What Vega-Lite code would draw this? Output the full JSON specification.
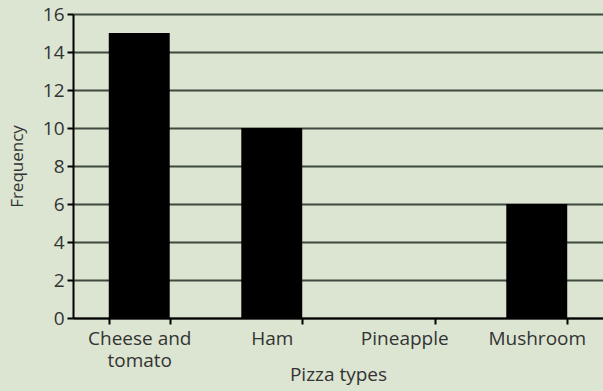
{
  "$schema": "https://vega.github.io/schema/vega-lite/v6.json",
  "autosize": "none",
  "width": 530,
  "height": 304,
  "padding": {"left": 73, "top": 14, "right": 0, "bottom": 73},
  "background": "#dce5d2",
  "config": {
    "view": {"stroke": null},
    "font": "Open Sans"
  },
  "data": {
    "values": [
      {"type": "Cheese and tomato", "frequency": 15},
      {"type": "Ham", "frequency": 10},
      {"type": "Pineapple", "frequency": 0},
      {"type": "Mushroom", "frequency": 6}
    ]
  },
  "mark": {"type": "bar", "color": "#000000"},
  "encoding": {
    "x": {
      "field": "type",
      "type": "nominal",
      "sort": null,
      "scale": {"paddingInner": 0.54, "paddingOuter": 0.27},
      "axis": {
        "title": "Pizza types",
        "titleFontSize": 19,
        "titleFontWeight": "normal",
        "titleColor": "#333333",
        "titlePadding": -5,
        "labelAngle": 0,
        "labelFontSize": 19,
        "labelColor": "#333333",
        "labelExpr": "datum.value == 'Cheese and tomato' ? ['Cheese and', 'tomato'] : datum.value",
        "labelLineHeight": 22,
        "labelPadding": 5,
        "tickBand": "extent",
        "tickColor": "#000000",
        "tickWidth": 2,
        "tickSize": 6,
        "domainColor": "#000000",
        "domainWidth": 2,
        "grid": false
      }
    },
    "y": {
      "field": "frequency",
      "type": "quantitative",
      "scale": {"domain": [0, 16]},
      "axis": {
        "title": "Frequency",
        "titleFontSize": 17,
        "titleFontWeight": "normal",
        "titleColor": "#333333",
        "titlePadding": 16,
        "values": [0, 2, 4, 6, 8, 10, 12, 14, 16],
        "labelFontSize": 19,
        "labelColor": "#333333",
        "labelPadding": 3,
        "tickColor": "#000000",
        "tickWidth": 2,
        "tickSize": 6,
        "domainColor": "#000000",
        "domainWidth": 2,
        "grid": true,
        "gridColor": "#3d4a3d",
        "gridWidth": 1.8,
        "gridOpacity": 1
      }
    }
  }
}
